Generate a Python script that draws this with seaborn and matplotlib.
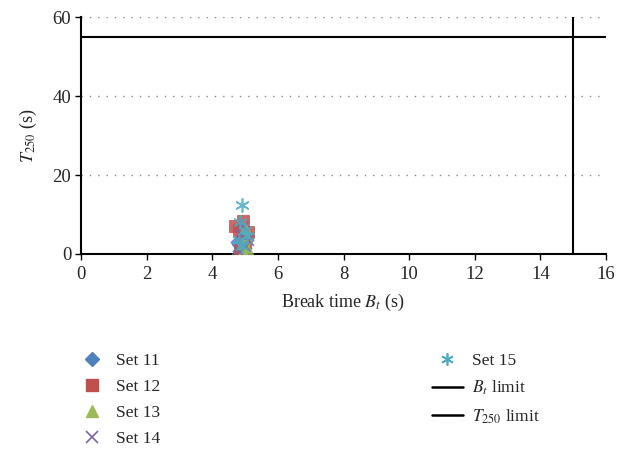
import matplotlib
matplotlib.use("Agg")
import matplotlib.pyplot as plt
import seaborn as sns
import pandas as pd
from matplotlib.lines import Line2D

# Break time (s) and T250 (s) for each set of trials
set11_bt = [4.75, 4.85, 4.90, 5.00, 5.05, 4.80]
set11_t = [3.0, 2.0, 4.5, 1.5, 3.5, 0.8]
set12_bt = [4.70, 4.95, 5.10, 4.85, 5.00, 4.80]
set12_t = [7.2, 8.3, 5.5, 1.0, 3.0, 6.0]
set13_bt = [5.00, 5.10, 4.90, 5.05, 4.95]
set13_t = [6.5, 1.0, 2.5, 4.0, 0.5]
set14_bt = [4.85, 5.00, 4.95, 5.10, 4.75]
set14_t = [5.0, 2.0, 7.0, 3.5, 1.2]
set15_bt = [4.92, 5.00, 4.80, 5.05, 4.90, 4.85]
set15_t = [12.5, 6.0, 3.5, 4.5, 2.0, 8.0]

bt_limit = 15.0
t250_limit = 55.0

x_ticks = [0, 2, 4, 6, 8, 10, 12, 14, 16]
y_ticks = [0, 20, 40, 60]

set_names = ["Set 11", "Set 12", "Set 13", "Set 14", "Set 15"]
colors = ["#4F81BD", "#C0504D", "#9BBB59", "#8064A2", "#4BACC6"]
markers = ["D", "s", "^", "x", (6, 2, 0)]
sizes = [45, 75, 70, 60, 90]

frames = []
for name, bt, t in zip(set_names,
                       [set11_bt, set12_bt, set13_bt, set14_bt, set15_bt],
                       [set11_t, set12_t, set13_t, set14_t, set15_t]):
    frames.append(pd.DataFrame({"bt": bt, "t": t, "set": name}))
data = pd.concat(frames, ignore_index=True)

sns.set_theme(style="white")
plt.rcParams["font.family"] = ["Liberation Serif", "DejaVu Serif"]
plt.rcParams["mathtext.fontset"] = "stix"

fig = plt.figure(figsize=(6.25, 4.49), dpi=100)
ax = fig.add_axes([0.1296, 0.4343, 0.84, 0.5278])

for name, col, mk, sz in zip(set_names, colors, markers, sizes):
    sub = data[data["set"] == name]
    if mk in ("x", (6, 2, 0)):
        sns.scatterplot(data=sub, x="bt", y="t", ax=ax, color=col, marker=mk,
                        s=sz, linewidth=1.2, alpha=0.85, legend=False, zorder=3)
    else:
        sns.scatterplot(data=sub, x="bt", y="t", ax=ax, color=col, marker=mk,
                        s=sz, edgecolor=col, linewidth=0.6, alpha=0.85,
                        legend=False, zorder=3)

# Limit lines
ax.axvline(bt_limit, ymin=0, ymax=1, color="black", lw=1.5, zorder=4)
ax.axhline(t250_limit, xmin=0, xmax=1, color="black", lw=1.5, zorder=4)

ax.set_xlim(0, 16)
ax.set_ylim(0, 60)
ax.set_xticks(x_ticks)
ax.set_yticks(y_ticks)
ax.tick_params(axis="both", labelsize=13.5, length=4, width=1, direction="out",
               color="black", bottom=True, left=True)
ax.tick_params(axis="x", pad=5)
ax.tick_params(axis="y", pad=3)
for yv in y_ticks[1:]:
    ax.axhline(yv, color="#888888", lw=1.0, linestyle=(0, (1, 5)), zorder=1)

sns.despine(ax=ax, top=True, right=True)
ax.spines["left"].set_color("black")
ax.spines["bottom"].set_color("black")
ax.spines["left"].set_linewidth(1.5)
ax.spines["bottom"].set_linewidth(1.5)

ax.set_xlabel("Break time $B_t$ (s)", fontsize=13, labelpad=6)
ax.set_ylabel("$T_{250}$ (s)", fontsize=13, labelpad=10)

handles = []
for name, col, mk in zip(set_names, colors, markers):
    if mk in ("x", (6, 2, 0)):
        handles.append(Line2D([], [], linestyle="none", marker=mk, color=col,
                              markersize=9, markeredgewidth=1.2, label=name))
    elif mk == "D":
        handles.append(Line2D([], [], linestyle="none", marker=mk, color=col,
                              markerfacecolor=col, markeredgecolor=col,
                              markersize=7.5, label=name))
    else:
        handles.append(Line2D([], [], linestyle="none", marker=mk, color=col,
                              markerfacecolor=col, markeredgecolor=col,
                              markersize=9, label=name))
handles.append(Line2D([], [], color="black", lw=1.8, label="$B_t$ limit"))
handles.append(Line2D([], [], color="black", lw=1.8, label="$T_{250}$ limit"))

fig.legend(handles=handles, ncol=2, loc="upper left",
           bbox_to_anchor=(0.0975, 0.2495), frameon=False, fontsize=12.5,
           handlelength=1.8, handletextpad=0.5, columnspacing=15.6,
           labelspacing=0.58)

fig.savefig("out.png", dpi=100)
